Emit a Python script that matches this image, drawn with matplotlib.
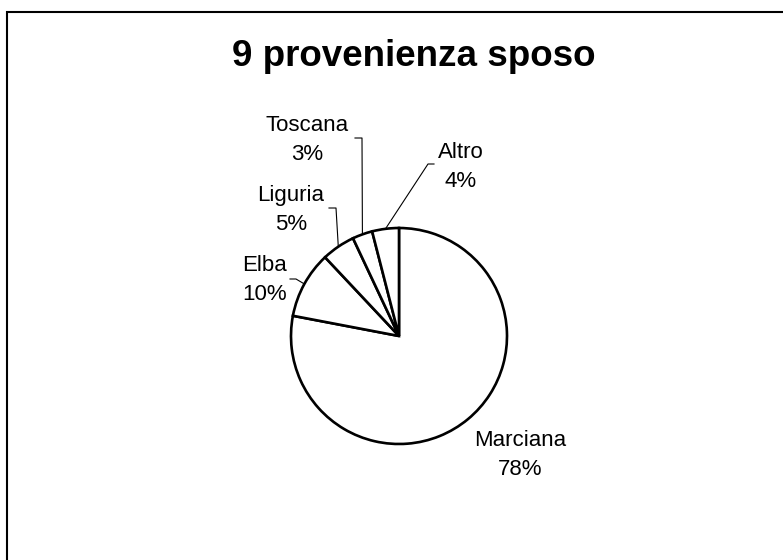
import numpy as np
import matplotlib
matplotlib.use('Agg')
import matplotlib.pyplot as plt
from matplotlib.patches import Rectangle

plt.rcParams['font.family'] = ['Liberation Sans', 'DejaVu Sans']

# dati
categorie = ['Marciana', 'Elba', 'Liguria', 'Toscana', 'Altro']
percentuali = [78, 10, 5, 3, 4]

# posizione etichette (pixel, y verso il basso) e gomito della linea guida
pos_etichette = {
    'Marciana': (520, 455),
    'Elba': (265, 280),
    'Liguria': (291, 210),
    'Toscana': (307, 140),
    'Altro': (461, 167),
}
gomiti = {
    'Elba': [(290, 279), (296, 279)],
    'Liguria': [(329, 208), (336, 208)],
    'Toscana': [(355, 138), (362, 138)],
    'Altro': [(434, 164), (428, 164)],
}

W, H = 783, 560
CX, CY, R = 399, 336, 108


def px(x, y):
    return x, H - y


def main():
    fig = plt.figure(figsize=(W / 100, H / 100), dpi=100)
    ax = fig.add_axes([0, 0, 1, 1])

    wedges, _ = ax.pie(percentuali, startangle=90, counterclock=False,
                       center=px(CX, CY), radius=R,
                       wedgeprops=dict(facecolor='white', edgecolor='black', linewidth=1.9))
    ax.set_xlim(0, W)
    ax.set_ylim(0, H)
    ax.axis('off')

    # etichette e linee guida
    for w, nome, p in zip(wedges, categorie, percentuali):
        tx, ty = pos_etichette[nome]
        ax.text(*px(tx, ty), f'{nome}\n{p}%', ha='center', va='center',
                fontsize=16, linespacing=1.5, color='black')
        if nome in gomiti:
            ang = np.deg2rad((w.theta1 + w.theta2) / 2)
            x0, y0 = px(CX, CY)
            punti = [px(*g) for g in gomiti[nome]]
            punti.append((x0 + R * np.cos(ang), y0 + R * np.sin(ang)))
            xs, ys = zip(*punti)
            ax.plot(xs, ys, color='black', linewidth=0.8)

    # titolo
    fig.text(414 / W, 1 - 57 / H, '9 provenienza sposo', ha='center', va='center',
             fontsize=26.5, fontweight='bold')

    # cornice
    ax.add_patch(Rectangle(px(7, H + 20), W, H + 8, fill=False,
                           edgecolor='black', linewidth=1.5, clip_on=False))

    fig.savefig('out.png', dpi=100)


if __name__ == '__main__':
    main()
